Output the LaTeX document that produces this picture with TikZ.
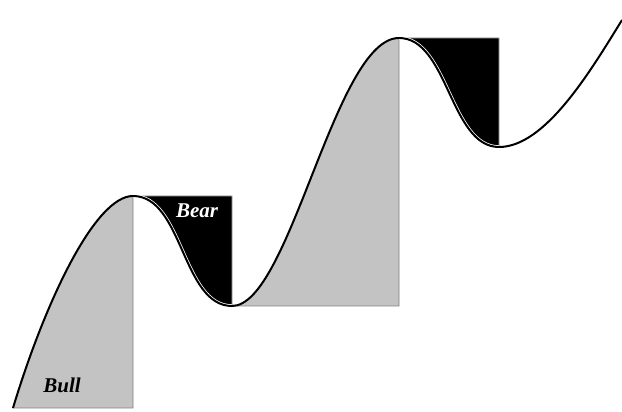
\documentclass[tikz,border=0pt]{standalone}
\usepackage{fontspec}
\setmainfont{Liberation Serif}
\usetikzlibrary{positioning}

\definecolor{bullgray}{RGB}{195,195,195}

\tikzset{
  bullfill/.style={fill=bullgray, draw=gray, line width=0.8pt},
  bearfill/.style={fill=black, draw=gray!70, line width=0.8pt},
  trend/.style={line width=2pt, line join=round},
  gap/.style={white, line width=3.5pt},
  lbl/.style={font=\fontsize{21}{21}\selectfont\bfseries\itshape, inner sep=0pt}
}

\begin{document}
\begin{tikzpicture}[x=1pt,y=1pt]
	\useasboundingbox (0,0) rectangle (622,412);
	\coordinate (start) at (13,4);
	\coordinate (peakA) at (133,216);
	\coordinate (lowA) at (232,106);
	\coordinate (peakB) at (399,374);
	\coordinate (lowB) at (499,265);
	\coordinate (end) at (622,392);
	% up moves
	\draw[bullfill] (start) .. controls (45,110) and (95,216) .. (peakA) -- (133,4) -- cycle;
	\draw[bullfill] (lowA) .. controls (290,106) and (335,374) .. (peakB) -- (399,106) -- cycle;
	% down moves
	\draw[bearfill] (peakA) -- (232,216) -- (lowA) .. controls (182,106) and (183,216) .. (peakA) -- cycle;
	\draw[bearfill] (peakB) -- (499,374) -- (lowB) .. controls (450,265) and (448,374) .. (peakB) -- cycle;
	\draw[gap] (peakA) .. controls (183,216) and (182,106) .. (lowA);
	\draw[gap] (peakB) .. controls (448,374) and (450,265) .. (lowB);
	% price line
	\draw[trend] (start) .. controls (45,110) and (95,216) .. (peakA)
		.. controls (183,216) and (182,106) .. (lowA)
		.. controls (290,106) and (335,374) .. (peakB)
		.. controls (448,374) and (450,265) .. (lowB)
		.. controls (545,265) and (590,340) .. (end);
	\node[lbl] (bull) at (62,27) {Bull};
	\node[lbl, white] (bear) at (197,201) {Bear};
\end{tikzpicture}
\end{document}
